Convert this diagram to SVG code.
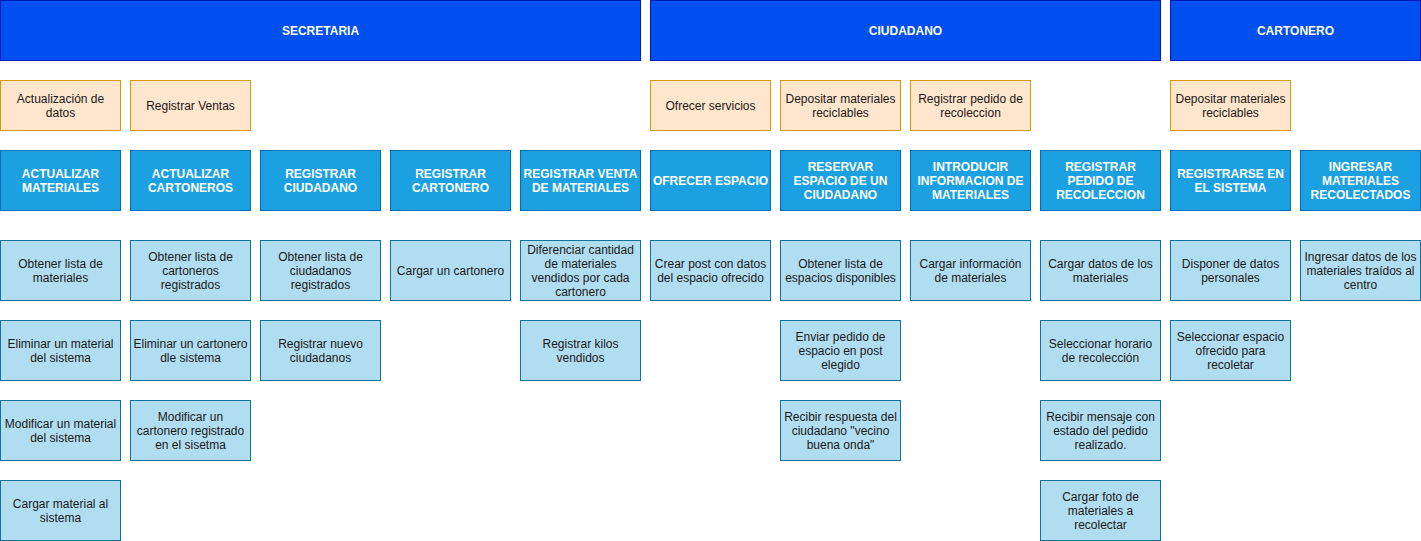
<svg xmlns="http://www.w3.org/2000/svg" width="1421" height="541" viewBox="0 0 1421 541">
<style>
.h{fill:#0050ef;stroke:#001dbc;stroke-width:1}
.o{fill:#ffe6cc;stroke:#d79b00;stroke-width:1}
.b{fill:#1ba1e2;stroke:#006eaf;stroke-width:1}
.l{fill:#b1ddf0;stroke:#10739e;stroke-width:1}
text{font-family:"Liberation Sans",Arial,sans-serif;font-size:12px;text-anchor:middle}
.w{fill:#ffffff;font-weight:bold}
.d{fill:#1a1a1a}
</style>
<rect width="1421" height="541" fill="#ffffff"/>
<g id="hdr-secretaria"><rect class="h" x="0.5" y="0.5" width="640" height="60"/><text class="w" x="320.5" y="34.5">SECRETARIA</text></g>
<g id="hdr-ciudadano"><rect class="h" x="650.5" y="0.5" width="510" height="60"/><text class="w" x="905.5" y="34.5">CIUDADANO</text></g>
<g id="hdr-cartonero"><rect class="h" x="1170.5" y="0.5" width="250" height="60"/><text class="w" x="1295.5" y="34.5">CARTONERO</text></g>

<g id="o1"><rect class="o" x="0.5" y="80.5" width="120" height="50"/><text class="d" x="60.5" y="102.5">Actualización de</text><text class="d" x="60.5" y="116.5">datos</text></g>
<g id="o2"><rect class="o" x="130.5" y="80.5" width="120" height="50"/><text class="d" x="190.5" y="109.5">Registrar Ventas</text></g>
<g id="o3"><rect class="o" x="650.5" y="80.5" width="120" height="50"/><text class="d" x="710.5" y="109.5">Ofrecer servicios</text></g>
<g id="o4"><rect class="o" x="780.5" y="80.5" width="120" height="50"/><text class="d" x="840.5" y="102.5">Depositar materiales</text><text class="d" x="840.5" y="116.5">reciclables</text></g>
<g id="o5"><rect class="o" x="910.5" y="80.5" width="120" height="50"/><text class="d" x="970.5" y="102.5">Registrar pedido de</text><text class="d" x="970.5" y="116.5">recoleccion</text></g>
<g id="o6"><rect class="o" x="1170.5" y="80.5" width="120" height="50"/><text class="d" x="1230.5" y="102.5">Depositar materiales</text><text class="d" x="1230.5" y="116.5">reciclables</text></g>

<g id="b1"><rect class="b" x="0.5" y="150.5" width="120" height="60"/><text class="w" x="60.5" y="177.5">ACTUALIZAR</text><text class="w" x="60.5" y="191.5">MATERIALES</text></g>
<g id="b2"><rect class="b" x="130.5" y="150.5" width="120" height="60"/><text class="w" x="190.5" y="177.5">ACTUALIZAR</text><text class="w" x="190.5" y="191.5">CARTONEROS</text></g>
<g id="b3"><rect class="b" x="260.5" y="150.5" width="120" height="60"/><text class="w" x="320.5" y="177.5">REGISTRAR</text><text class="w" x="320.5" y="191.5">CIUDADANO</text></g>
<g id="b4"><rect class="b" x="390.5" y="150.5" width="120" height="60"/><text class="w" x="450.5" y="177.5">REGISTRAR</text><text class="w" x="450.5" y="191.5">CARTONERO</text></g>
<g id="b5"><rect class="b" x="520.5" y="150.5" width="120" height="60"/><text class="w" x="580.5" y="177.5">REGISTRAR VENTA</text><text class="w" x="580.5" y="191.5">DE MATERIALES</text></g>
<g id="b6"><rect class="b" x="650.5" y="150.5" width="120" height="60"/><text class="w" x="710.5" y="184.5">OFRECER ESPACIO</text></g>
<g id="b7"><rect class="b" x="780.5" y="150.5" width="120" height="60"/><text class="w" x="840.5" y="170.5">RESERVAR</text><text class="w" x="840.5" y="184.5">ESPACIO DE UN</text><text class="w" x="840.5" y="198.5">CIUDADANO</text></g>
<g id="b8"><rect class="b" x="910.5" y="150.5" width="120" height="60"/><text class="w" x="970.5" y="170.5">INTRODUCIR</text><text class="w" x="970.5" y="184.5">INFORMACION DE</text><text class="w" x="970.5" y="198.5">MATERIALES</text></g>
<g id="b9"><rect class="b" x="1040.5" y="150.5" width="120" height="60"/><text class="w" x="1100.5" y="170.5">REGISTRAR</text><text class="w" x="1100.5" y="184.5">PEDIDO DE</text><text class="w" x="1100.5" y="198.5">RECOLECCION</text></g>
<g id="b10"><rect class="b" x="1170.5" y="150.5" width="120" height="60"/><text class="w" x="1230.5" y="177.5">REGISTRARSE EN</text><text class="w" x="1230.5" y="191.5">EL SISTEMA</text></g>
<g id="b11"><rect class="b" x="1300.5" y="150.5" width="120" height="60"/><text class="w" x="1360.5" y="170.5">INGRESAR</text><text class="w" x="1360.5" y="184.5">MATERIALES</text><text class="w" x="1360.5" y="198.5">RECOLECTADOS</text></g>

<g id="l1"><rect class="l" x="0.5" y="240.5" width="120" height="60"/><text class="d" x="60.5" y="267.5">Obtener lista de</text><text class="d" x="60.5" y="281.5">materiales</text></g>
<g id="l2"><rect class="l" x="130.5" y="240.5" width="120" height="60"/><text class="d" x="190.5" y="260.5">Obtener lista de</text><text class="d" x="190.5" y="274.5">cartoneros</text><text class="d" x="190.5" y="288.5">registrados</text></g>
<g id="l3"><rect class="l" x="260.5" y="240.5" width="120" height="60"/><text class="d" x="320.5" y="260.5">Obtener lista de</text><text class="d" x="320.5" y="274.5">ciudadanos</text><text class="d" x="320.5" y="288.5">registrados</text></g>
<g id="l4"><rect class="l" x="390.5" y="240.5" width="120" height="60"/><text class="d" x="450.5" y="274.5">Cargar un cartonero</text></g>
<g id="l5"><rect class="l" x="520.5" y="240.5" width="120" height="60"/><text class="d" x="580.5" y="253.5">Diferenciar cantidad</text><text class="d" x="580.5" y="267.5">de materiales</text><text class="d" x="580.5" y="281.5">vendidos por cada</text><text class="d" x="580.5" y="295.5">cartonero</text></g>
<g id="l6"><rect class="l" x="650.5" y="240.5" width="120" height="60"/><text class="d" x="710.5" y="267.5">Crear post con datos</text><text class="d" x="710.5" y="281.5">del espacio ofrecido</text></g>
<g id="l7"><rect class="l" x="780.5" y="240.5" width="120" height="60"/><text class="d" x="840.5" y="267.5">Obtener lista de</text><text class="d" x="840.5" y="281.5">espacios disponibles</text></g>
<g id="l8"><rect class="l" x="910.5" y="240.5" width="120" height="60"/><text class="d" x="970.5" y="267.5">Cargar información</text><text class="d" x="970.5" y="281.5">de materiales</text></g>
<g id="l9"><rect class="l" x="1040.5" y="240.5" width="120" height="60"/><text class="d" x="1100.5" y="267.5">Cargar datos de los</text><text class="d" x="1100.5" y="281.5">materiales</text></g>
<g id="l10"><rect class="l" x="1170.5" y="240.5" width="120" height="60"/><text class="d" x="1230.5" y="267.5">Disponer de datos</text><text class="d" x="1230.5" y="281.5">personales</text></g>
<g id="l11"><rect class="l" x="1300.5" y="240.5" width="120" height="60"/><text class="d" x="1360.5" y="260.5">Ingresar datos de los</text><text class="d" x="1360.5" y="274.5">materiales traídos al</text><text class="d" x="1360.5" y="288.5">centro</text></g>

<g id="m1"><rect class="l" x="0.5" y="320.5" width="120" height="60"/><text class="d" x="60.5" y="347.5">Eliminar un material</text><text class="d" x="60.5" y="361.5">del sistema</text></g>
<g id="m2"><rect class="l" x="130.5" y="320.5" width="120" height="60"/><text class="d" x="190.5" y="347.5">Eliminar un cartonero</text><text class="d" x="190.5" y="361.5">dle sistema</text></g>
<g id="m3"><rect class="l" x="260.5" y="320.5" width="120" height="60"/><text class="d" x="320.5" y="347.5">Registrar nuevo</text><text class="d" x="320.5" y="361.5">ciudadanos</text></g>
<g id="m5"><rect class="l" x="520.5" y="320.5" width="120" height="60"/><text class="d" x="580.5" y="347.5">Registrar kilos</text><text class="d" x="580.5" y="361.5">vendidos</text></g>
<g id="m7"><rect class="l" x="780.5" y="320.5" width="120" height="60"/><text class="d" x="840.5" y="340.5">Enviar pedido de</text><text class="d" x="840.5" y="354.5">espacio en post</text><text class="d" x="840.5" y="368.5">elegido</text></g>
<g id="m9"><rect class="l" x="1040.5" y="320.5" width="120" height="60"/><text class="d" x="1100.5" y="347.5">Seleccionar horario</text><text class="d" x="1100.5" y="361.5">de recolección</text></g>
<g id="m10"><rect class="l" x="1170.5" y="320.5" width="120" height="60"/><text class="d" x="1230.5" y="340.5">Seleccionar espacio</text><text class="d" x="1230.5" y="354.5">ofrecido para</text><text class="d" x="1230.5" y="368.5">recoletar</text></g>

<g id="n1"><rect class="l" x="0.5" y="400.5" width="120" height="60"/><text class="d" x="60.5" y="427.5">Modificar un material</text><text class="d" x="60.5" y="441.5">del sistema</text></g>
<g id="n2"><rect class="l" x="130.5" y="400.5" width="120" height="60"/><text class="d" x="190.5" y="420.5">Modificar un</text><text class="d" x="190.5" y="434.5">cartonero registrado</text><text class="d" x="190.5" y="448.5">en el sisetma</text></g>
<g id="n7"><rect class="l" x="780.5" y="400.5" width="120" height="60"/><text class="d" x="840.5" y="420.5">Recibir respuesta del</text><text class="d" x="840.5" y="434.5">ciudadano "vecino</text><text class="d" x="840.5" y="448.5">buena onda"</text></g>
<g id="n9"><rect class="l" x="1040.5" y="400.5" width="120" height="60"/><text class="d" x="1100.5" y="420.5">Recibir mensaje con</text><text class="d" x="1100.5" y="434.5">estado del pedido</text><text class="d" x="1100.5" y="448.5">realizado.</text></g>

<g id="p1"><rect class="l" x="0.5" y="480.5" width="120" height="60"/><text class="d" x="60.5" y="507.5">Cargar material al</text><text class="d" x="60.5" y="521.5">sistema</text></g>
<g id="p9"><rect class="l" x="1040.5" y="480.5" width="120" height="60"/><text class="d" x="1100.5" y="500.5">Cargar foto de</text><text class="d" x="1100.5" y="514.5">materiales a</text><text class="d" x="1100.5" y="528.5">recolectar</text></g>

<g id="connectors"></g>
</svg>
